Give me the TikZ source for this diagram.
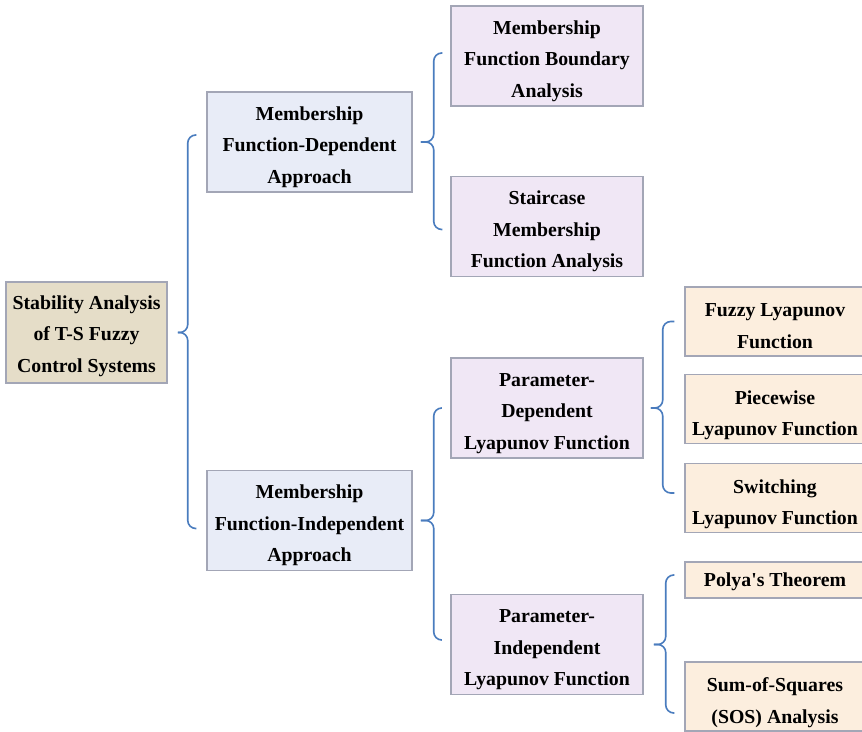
\documentclass[tikz,border=0pt]{standalone}
\usepackage{fontspec}
\setmainfont{Liberation Serif}
\definecolor{boxline}{RGB}{163,166,182}
\definecolor{rootfill}{RGB}{229,221,200}
\definecolor{appfill}{RGB}{232,236,247}
\definecolor{methfill}{RGB}{240,231,245}
\definecolor{leaffill}{RGB}{252,238,222}
\definecolor{brkblue}{RGB}{74,124,190}

\begin{document}
\begin{tikzpicture}[
  x=1pt, y=-1pt,
  box/.style={rectangle, draw=boxline, line width=1.5pt, align=center,
              inner sep=0pt, text depth=0pt,
              font=\bfseries\fontsize{19.8}{31.5}\selectfont},
  rootbox/.style={box, fill=rootfill, text height=79.5pt,
                  minimum width=161pt, minimum height=101pt},
  appbox/.style={box, fill=appfill, text height=82.5pt,
                 minimum width=205pt, minimum height=100pt},
  methbox/.style={box, fill=methfill, text height=82.5pt,
                  minimum width=192pt, minimum height=100pt},
  leafbox/.style={box, fill=leaffill, text height=53pt,
                  minimum width=180pt, minimum height=69pt},
  brk/.style={draw=brkblue, line width=1.6pt, rounded corners=8pt}]
  \useasboundingbox (0,0) rectangle (862,731);
  \node[rootbox] (stab) at (86.5,332.5) {Stability Analysis\\of T-S Fuzzy\\Control Systems};
  \node[appbox] (mfd) at (309.5,142) {Membership\\Function-Dependent\\Approach};
  \node[appbox] (mfi) at (309.5,520.5) {Membership\\Function-Independent\\Approach};
  \node[methbox] (mfba) at (547,56) {Membership\\Function Boundary\\Analysis};
  \node[methbox] (smfa) at (547,226.5) {Staircase\\Membership\\Function Analysis};
  \node[methbox] (pdlf) at (547,408) {Parameter-\\Dependent\\Lyapunov Function};
  \node[methbox] (pilf) at (547,644.5) {Parameter-\\Independent\\Lyapunov Function};
  \node[leafbox] (flf) at (775,321.5) {Fuzzy Lyapunov\\Function};
  \node[leafbox] (plf) at (775,409) {Piecewise\\Lyapunov Function};
  \node[leafbox] (slf) at (775,498) {Switching\\Lyapunov Function};
  \node[box, fill=leaffill, minimum width=180pt, minimum height=36pt] (polya) at (775,580) {Polya\textquotesingle s Theorem};
  \node[leafbox] (sos) at (775,696.5) {Sum-of-Squares\\(SOS) Analysis};
  % braces
  \draw[brk] ([xshift=-10pt,yshift=7pt]mfd.west) -| ([xshift=20pt]stab.east) -- ([xshift=10pt]stab.east);
  \draw[brk] ([xshift=-10pt,yshift=-8pt]mfi.west) -| ([xshift=20pt]stab.east) -- ([xshift=10pt]stab.east);
  \draw[brk] ([xshift=-8pt,yshift=3pt]mfba.west) -| ([xshift=21pt]mfd.east) -- ([xshift=8pt]mfd.east);
  \draw[brk] ([xshift=-8pt,yshift=-3pt]smfa.west) -| ([xshift=21pt]mfd.east) -- ([xshift=8pt]mfd.east);
  \draw[brk] ([xshift=-9pt]pdlf.west) -| ([xshift=21pt]mfi.east) -- ([xshift=8pt]mfi.east);
  \draw[brk] ([xshift=-9pt,yshift=4.5pt]pilf.west) -| ([xshift=21pt]mfi.east) -- ([xshift=8pt]mfi.east);
  \draw[brk] ([xshift=-10pt]flf.west) -| ([xshift=19pt]pdlf.east) -- ([xshift=7pt]pdlf.east);
  \draw[brk] ([xshift=-10pt,yshift=5pt]slf.west) -| ([xshift=19pt]pdlf.east) -- ([xshift=7pt]pdlf.east);
  \draw[brk] ([xshift=-10pt,yshift=5pt]polya.west) -| ([xshift=22pt]pilf.east) -- ([xshift=10pt]pilf.east);
  \draw[brk] ([xshift=-10pt,yshift=-16.5pt]sos.west) -| ([xshift=22pt]pilf.east) -- ([xshift=10pt]pilf.east);
\end{tikzpicture}
\end{document}
